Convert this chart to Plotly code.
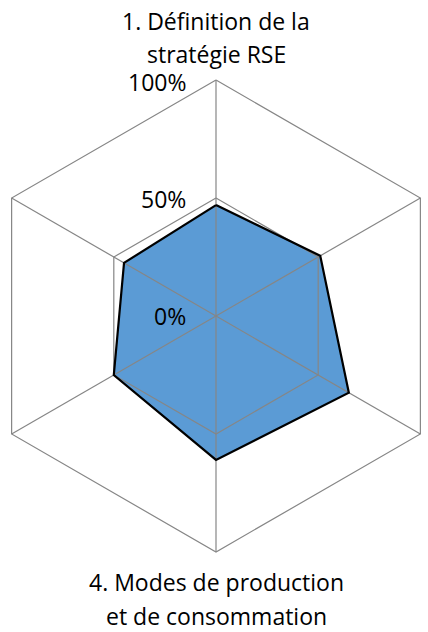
import numpy as np
import plotly.graph_objects as go

# ---- data ----
axes_labels = ["1. Définition de la<br>stratégie RSE", "2.", "3.",
               "4. Modes de production<br>et de consommation", "5.", "6."]
values = [0.47, 0.51, 0.65, 0.61, 0.50, 0.45]
ring_levels = [0.5, 1.0]
tick_labels = ["0%", "50%", "100%"]
tick_values = [0.0, 0.5, 1.0]

n = len(values)
theta = np.deg2rad(90 - 60 * np.arange(n))  # clockwise from top
cx, cy = np.cos(theta), np.sin(theta)

GRID = "#868686"
FILL = "#5b9bd5"
FONT = "Open Sans"

fig = go.Figure()

# filled area
vx = np.append(np.array(values) * cx, values[0] * cx[0])
vy = np.append(np.array(values) * cy, values[0] * cy[0])
fig.add_trace(go.Scatter(x=vx, y=vy, mode="lines", fill="toself",
                         fillcolor=FILL, line=dict(width=0, color=FILL),
                         hoverinfo="skip", showlegend=False))

# grid rings
for lv in ring_levels:
    gx = np.append(lv * cx, lv * cx[0])
    gy = np.append(lv * cy, lv * cy[0])
    fig.add_trace(go.Scatter(x=gx, y=gy, mode="lines",
                             line=dict(color=GRID, width=1.2),
                             hoverinfo="skip", showlegend=False))
# spokes
sx, sy = [], []
for i in range(n):
    sx += [0, cx[i], None]
    sy += [0, cy[i], None]
fig.add_trace(go.Scatter(x=sx, y=sy, mode="lines",
                         line=dict(color=GRID, width=1.2),
                         hoverinfo="skip", showlegend=False))

# data outline
fig.add_trace(go.Scatter(x=vx, y=vy, mode="lines",
                         line=dict(color="black", width=2.2),
                         name="Score", showlegend=False))

# tick labels
for t, v in zip(tick_labels, tick_values):
    fig.add_annotation(x=-0.1186, y=v * 0.99, text=t, showarrow=False,
                       xanchor="right", yanchor="middle",
                       font=dict(family=FONT, size=23, color="black"))

# axis labels (only those visible in the frame)
def add_label(idx, y_lines):
    lines = axes_labels[idx].split("<br>")
    for line, yy in zip(lines, y_lines):
        fig.add_annotation(x=0, y=yy, text=line, showarrow=False,
                           xanchor="center", yanchor="middle",
                           font=dict(family=FONT, size=23, color="black"))

add_label(0, [1.25, 1.11])
add_label(3, [-1.125, -1.27])

fig.update_layout(
    width=428, height=632,
    margin=dict(l=0, r=0, t=0, b=0),
    paper_bgcolor="white", plot_bgcolor="white",
    xaxis=dict(range=[-216 / 236, 212 / 236], visible=False, fixedrange=True),
    yaxis=dict(range=[-316 / 236, 316 / 236], visible=False, fixedrange=True),
)

fig.write_html("out.html",
               config={"displayModeBar": False, "staticPlot": True},
               post_script="document.body.style.margin='0';document.body.style.overflow='hidden';")
